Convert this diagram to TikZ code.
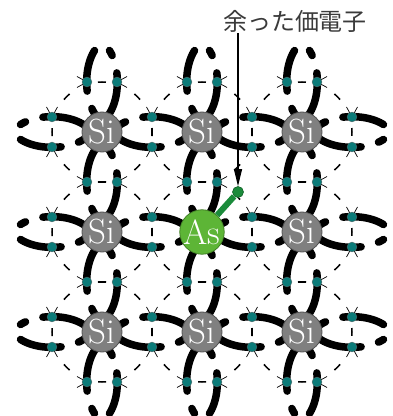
\documentclass[tikz,border=0pt]{standalone}
\usepackage{fontspec}
\newfontfamily\jpfont{Noto Sans CJK JP}
\usetikzlibrary{arrows.meta}
\usepackage{xcolor}
\definecolor{atomgray}{HTML}{808080}
\definecolor{atomedge}{HTML}{505050}
\definecolor{valence}{HTML}{0B7B79}
\definecolor{asgreen}{HTML}{5DB536}
\definecolor{sparegreen}{HTML}{1B8B3B}
\definecolor{notegray}{HTML}{3A3A3A}

% one bonding arm: atom at origin, neighbour at (100,0)
\tikzset{
  pics/bondarm/.style={code={
    \draw[bond] (-22:20) .. controls (35,-18) and (65,-18) .. (81.5,-7.5);
    \draw[elmark] (44.5,-25) -- (50,-15) -- (55.5,-25);
    \fill[electron] (50,-15) circle (5);
  }}
}

\begin{document}
\begin{tikzpicture}[
    x=1pt, y=1pt,
    bond/.style={line width=7.5pt, line cap=round, dash pattern=on 42pt off 18pt on 20pt},
    orbit/.style={line width=1.5pt, dash pattern=on 8pt off 31.27pt, dash phase=4pt},
    elmark/.style={line width=0.7pt},
    electron/.style={fill=valence, draw=black!60, line width=0.3pt},
    si/.style={circle, minimum size=40pt, inner sep=0pt, fill=atomgray, draw=atomedge, line width=0.8pt, text=white, font=\fontsize{35}{35}\selectfont},
    arsenic/.style={si, fill=asgreen, draw=asgreen!70!black},
    spare/.style={circle, minimum size=11pt, inner sep=0pt, fill=sparegreen, draw=sparegreen!70!black, line width=0.6pt},
    sparebond/.style={line width=6pt, color=sparegreen},
    note/.style={font=\jpfont\fontsize{24}{24}\selectfont, text=notegray, inner sep=1pt},
    pointer/.style={-{Triangle[length=17pt, width=8pt]}, line width=1.2pt},
]
\useasboundingbox (0,0) rectangle (392,416);

% lattice sites (outer ring only lends its half-bonds)
\foreach \i in {0,...,4}
  \foreach \j in {0,...,4}
    \coordinate (p-\i-\j) at (2+100*\i, 384-100*\j);

% dashed shells
\foreach \i in {1,2,3}
  \foreach \j in {1,2,3}
    \draw[orbit] (p-\i-\j) circle (50);

% bonds of the 3x3 crystal
\foreach \i in {1,2,3}
  \foreach \j in {1,2,3}
    \foreach \r in {0,90,180,270}
      \pic[rotate=\r] at (p-\i-\j) {bondarm};

% half-bonds coming in from outside
\foreach \k in {1,2,3} {
  \pic[rotate=0] at (p-0-\k) {bondarm};
  \pic[rotate=180] at (p-4-\k) {bondarm};
  \pic[rotate=270] at (p-\k-0) {bondarm};
  \pic[rotate=90] at (p-\k-4) {bondarm};
}

% atoms
\foreach \s in {1-1,2-1,3-1,1-2,3-2,1-3,2-3,3-3}
  \node[si] (si-\s) at (p-\s) {Si};
\node[arsenic] (as) at (p-2-2) {As};

% fifth electron of As
\node[spare] (spare) at ([shift={(36,40)}]as.center) {};
\draw[sparebond] (as) -- (spare);

% label
\node[note] (note) at (295,395) {余った価電子};
\draw[pointer] (spare |- note.south) -- (spare.north);

\end{tikzpicture}
\end{document}
